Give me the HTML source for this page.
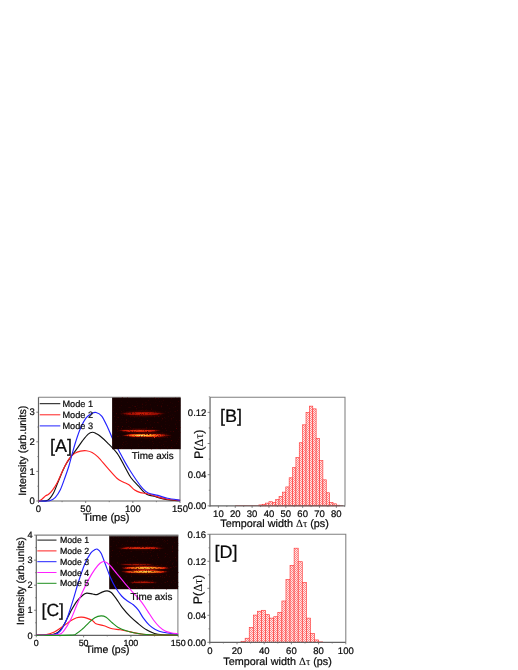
<!DOCTYPE html>
<html>
<head>
<meta charset="utf-8">
<title>Figure</title>
<style>
html,body{margin:0;padding:0;background:#ffffff;}
body{width:518px;height:670px;overflow:hidden;font-family:"Liberation Sans",sans-serif;}
svg{display:block;opacity:0.999;}
svg text{text-rendering:geometricPrecision;font-family:"Liberation Sans",sans-serif;fill:#0a0a0a;stroke:#0a0a0a;stroke-width:0.22px;}
</style>
</head>
<body>
<svg width="518" height="670" viewBox="0 0 518 670">
<defs>
<pattern id="hatch" x="0" y="0" width="2" height="2" patternUnits="userSpaceOnUse">
<rect width="2" height="2" fill="#ffe8e8"/>
<rect x="0" y="0" width="1" height="1" fill="#ff8888"/>
<rect x="1" y="1" width="1" height="1" fill="#ff8888"/>
</pattern>
<radialGradient id="gGlow">
<stop offset="0" stop-color="#a80c00" stop-opacity="0.9"/>
<stop offset="0.7" stop-color="#8a0800" stop-opacity="0.55"/>
<stop offset="1" stop-color="#4a0000" stop-opacity="0"/>
</radialGradient>
<radialGradient id="gHotL" fx="0.36" fy="0.5">
<stop offset="0" stop-color="#fff07a" stop-opacity="1"/>
<stop offset="0.3" stop-color="#ffa020" stop-opacity="1"/>
<stop offset="0.7" stop-color="#e82408" stop-opacity="0.95"/>
<stop offset="1" stop-color="#5a0000" stop-opacity="0"/>
</radialGradient>
<radialGradient id="gDim">
<stop offset="0" stop-color="#e02408" stop-opacity="1"/>
<stop offset="0.65" stop-color="#b81004" stop-opacity="0.85"/>
<stop offset="1" stop-color="#500000" stop-opacity="0"/>
</radialGradient>
<radialGradient id="gRed">
<stop offset="0" stop-color="#ff4a14" stop-opacity="1"/>
<stop offset="0.7" stop-color="#e01a08" stop-opacity="0.9"/>
<stop offset="1" stop-color="#5a0000" stop-opacity="0"/>
</radialGradient>
<radialGradient id="gHot">
<stop offset="0" stop-color="#fff07a" stop-opacity="1"/>
<stop offset="0.35" stop-color="#ffa020" stop-opacity="1"/>
<stop offset="0.75" stop-color="#e82408" stop-opacity="0.95"/>
<stop offset="1" stop-color="#5a0000" stop-opacity="0"/>
</radialGradient>
<filter id="noise" x="0" y="0" width="1" height="1" color-interpolation-filters="sRGB">
<feTurbulence type="fractalNoise" baseFrequency="0.8" numOctaves="2" seed="3" result="n"/>
<feColorMatrix in="n" type="matrix" values="0 0 0 0 0.34  0 0 0 0 0  0 0 0 0 0  3.5 0 0 0 -2.25" result="rn"/>
<feComposite in="rn" in2="SourceGraphic" operator="over"/>
</filter>
<filter id="grain" x="-0.1" y="-1" width="1.2" height="3" color-interpolation-filters="sRGB">
<feTurbulence type="fractalNoise" baseFrequency="0.7" numOctaves="2" seed="11" result="t"/>
<feDisplacementMap in="SourceGraphic" in2="t" scale="1.7" xChannelSelector="R" yChannelSelector="G" result="d"/>
<feColorMatrix in="t" type="matrix" values="0 0 0 0 1  0 0 0 0 1  0 0 0 0 1  0 0 2.6 0 -0.25" result="m"/>
<feComposite in="d" in2="m" operator="in"/>
</filter>
</defs>
<rect width="518" height="670" fill="#ffffff"/>
<!-- Panel A -->
<path d="M38.50,397.30 H180.00 V501.00" fill="none" stroke="#808080" stroke-width="1.05"/><path d="M38.50,397.30 V501.00 H180.00" fill="none" stroke="#646464" stroke-width="1.2"/>
<line x1="36.30" x2="38.50" y1="501.00" y2="501.00" stroke="#646464" stroke-width="0.8"/>
<text x="34.90" y="504.20" font-size="9.50" text-anchor="end" >0</text>
<line x1="36.30" x2="38.50" y1="471.40" y2="471.40" stroke="#646464" stroke-width="0.8"/>
<text x="34.90" y="474.60" font-size="9.50" text-anchor="end" >1</text>
<line x1="36.30" x2="38.50" y1="441.80" y2="441.80" stroke="#646464" stroke-width="0.8"/>
<text x="34.90" y="445.00" font-size="9.50" text-anchor="end" >2</text>
<line x1="36.30" x2="38.50" y1="412.20" y2="412.20" stroke="#646464" stroke-width="0.8"/>
<text x="34.90" y="415.40" font-size="9.50" text-anchor="end" >3</text>
<line x1="37.30" x2="38.50" y1="486.20" y2="486.20" stroke="#646464" stroke-width="0.7"/>
<line x1="37.30" x2="38.50" y1="456.60" y2="456.60" stroke="#646464" stroke-width="0.7"/>
<line x1="37.30" x2="38.50" y1="427.00" y2="427.00" stroke="#646464" stroke-width="0.7"/>
<line x1="38.50" x2="38.50" y1="501.00" y2="503.00" stroke="#646464" stroke-width="0.8"/>
<text x="38.50" y="512.00" font-size="9.50" text-anchor="middle" >0</text>
<line x1="85.66" x2="85.66" y1="501.00" y2="503.00" stroke="#646464" stroke-width="0.8"/>
<text x="85.66" y="512.00" font-size="9.50" text-anchor="middle" >50</text>
<line x1="132.83" x2="132.83" y1="501.00" y2="503.00" stroke="#646464" stroke-width="0.8"/>
<text x="132.83" y="512.00" font-size="9.50" text-anchor="middle" >100</text>
<line x1="180.00" x2="180.00" y1="501.00" y2="503.00" stroke="#646464" stroke-width="0.8"/>
<text x="180.00" y="512.00" font-size="9.50" text-anchor="middle" >150</text>
<line x1="62.08" x2="62.08" y1="501.00" y2="502.20" stroke="#646464" stroke-width="0.7"/>
<line x1="109.25" x2="109.25" y1="501.00" y2="502.20" stroke="#646464" stroke-width="0.7"/>
<line x1="156.41" x2="156.41" y1="501.00" y2="502.20" stroke="#646464" stroke-width="0.7"/>
<path d="M38.80,501.00C40.28,500.87 45.25,501.53 47.70,500.20C50.15,498.87 51.57,496.55 53.50,493.00C55.43,489.45 57.38,483.40 59.30,478.90C61.22,474.40 63.08,469.67 65.00,466.00C66.92,462.33 68.87,459.70 70.80,456.90C72.73,454.10 74.67,451.87 76.60,449.20C78.53,446.53 80.47,443.42 82.40,440.90C84.33,438.38 86.50,435.53 88.20,434.10C89.90,432.67 91.32,432.40 92.60,432.30C93.88,432.20 94.67,432.88 95.90,433.50C97.13,434.12 98.07,434.45 100.00,436.00C101.93,437.55 104.63,439.90 107.50,442.80C110.37,445.70 114.30,449.37 117.20,453.40C120.10,457.43 122.63,462.98 124.90,467.00C127.17,471.02 128.52,474.30 130.80,477.50C133.08,480.70 136.02,483.45 138.60,486.20C141.18,488.95 143.73,492.32 146.30,494.00C148.87,495.68 150.47,495.33 154.00,496.30C157.53,497.27 163.15,499.05 167.50,499.80C171.85,500.55 178.00,500.63 180.10,500.80" fill="none" stroke="#111" stroke-width="1.15" stroke-linejoin="round"/>
<path d="M38.80,501.00C39.32,500.70 40.75,500.07 41.90,499.20C43.05,498.33 44.58,496.62 45.70,495.80C46.82,494.98 47.47,495.25 48.60,494.30C49.73,493.35 51.05,492.08 52.50,490.10C53.95,488.12 55.53,485.78 57.30,482.40C59.07,479.02 61.17,473.67 63.10,469.80C65.03,465.93 66.97,461.93 68.90,459.20C70.83,456.47 72.77,454.75 74.70,453.40C76.63,452.05 78.57,451.55 80.50,451.10C82.43,450.65 84.37,450.48 86.30,450.70C88.23,450.92 90.17,451.37 92.10,452.40C94.03,453.43 95.33,454.32 97.90,456.90C100.47,459.48 104.28,464.30 107.50,467.90C110.72,471.50 114.60,476.15 117.20,478.50C119.80,480.85 121.15,480.95 123.10,482.00C125.05,483.05 126.97,483.45 128.90,484.80C130.83,486.15 132.77,488.80 134.70,490.10C136.63,491.40 138.25,491.95 140.50,492.60C142.75,493.25 145.30,493.28 148.20,494.00C151.10,494.72 154.68,496.03 157.90,496.90C161.12,497.77 163.80,498.62 167.50,499.20C171.20,499.78 178.00,500.20 180.10,500.40" fill="none" stroke="#ff2020" stroke-width="1.15" stroke-linejoin="round"/>
<path d="M38.80,501.00C40.60,500.97 46.83,501.42 49.60,500.80C52.37,500.18 53.63,499.08 55.40,497.30C57.17,495.52 58.60,493.40 60.20,490.10C61.80,486.80 63.55,481.52 65.00,477.50C66.45,473.48 67.77,469.70 68.90,466.00C70.03,462.30 70.67,459.33 71.80,455.30C72.93,451.27 74.25,446.30 75.70,441.80C77.15,437.30 78.73,432.32 80.50,428.30C82.27,424.28 84.37,420.20 86.30,417.70C88.23,415.20 90.47,414.17 92.10,413.30C93.73,412.43 94.50,412.03 96.10,412.50C97.70,412.97 99.77,413.60 101.70,416.10C103.63,418.60 105.90,423.77 107.70,427.50C109.50,431.23 110.57,434.50 112.50,438.50C114.43,442.50 117.22,447.57 119.30,451.50C121.38,455.43 123.08,458.72 125.00,462.10C126.92,465.48 128.87,468.73 130.80,471.80C132.73,474.87 134.67,477.77 136.60,480.50C138.53,483.23 140.47,486.12 142.40,488.20C144.33,490.28 145.62,491.80 148.20,493.00C150.78,494.20 154.68,494.52 157.90,495.40C161.12,496.28 163.80,497.50 167.50,498.30C171.20,499.10 178.00,499.88 180.10,500.20" fill="none" stroke="#2222ff" stroke-width="1.15" stroke-linejoin="round"/>
<line x1="39.7" x2="60.3" y1="403.70" y2="403.70" stroke="#111" stroke-width="1.0"/>
<text x="62.40" y="406.90" font-size="9.20" text-anchor="start" >Mode 1</text>
<line x1="39.7" x2="60.3" y1="414.80" y2="414.80" stroke="#ff2020" stroke-width="1.0"/>
<text x="62.40" y="418.00" font-size="9.20" text-anchor="start" >Mode 2</text>
<line x1="39.7" x2="60.3" y1="425.90" y2="425.90" stroke="#2222ff" stroke-width="1.0"/>
<text x="62.40" y="429.10" font-size="9.20" text-anchor="start" >Mode 3</text>
<text x="50.00" y="452.00" font-size="18.00" text-anchor="start" >[A]</text>
<text transform="translate(26.10,450.70) rotate(-90)" font-size="10.60" text-anchor="middle">Intensity (arb.units)</text>
<text x="106.30" y="520.90" font-size="11.10" text-anchor="middle" >Time (ps)</text>
<g filter="url(#noise)">
<rect x="112.1" y="397.6" width="68.6" height="51.6" fill="#160101"/>
</g>
<ellipse cx="142.60" cy="413.70" rx="25.50" ry="4.56" fill="url(#gGlow)" opacity="0.36" filter="url(#grain)"/><ellipse cx="142.60" cy="413.70" rx="23.50" ry="2.20" fill="url(#gDim)" opacity="0.90" filter="url(#grain)"/>
<ellipse cx="139.10" cy="430.80" rx="24.50" ry="3.30" fill="url(#gGlow)" opacity="0.38" filter="url(#grain)"/><ellipse cx="139.10" cy="430.80" rx="22.50" ry="1.50" fill="url(#gRed)" opacity="0.95" filter="url(#grain)"/>
<ellipse cx="147.10" cy="435.40" rx="27.50" ry="4.38" fill="url(#gGlow)" opacity="0.40" filter="url(#grain)"/><ellipse cx="147.10" cy="435.40" rx="25.50" ry="2.10" fill="url(#gHotL)" opacity="1.00" filter="url(#grain)"/>
<text x="152.80" y="458.70" font-size="9.90" text-anchor="middle" >Time axis</text>
<!-- Panel C -->
<path d="M36.30,535.10 H177.90 V635.30" fill="none" stroke="#808080" stroke-width="1.05"/><path d="M36.30,535.10 V635.30 H177.90" fill="none" stroke="#646464" stroke-width="1.2"/>
<line x1="34.10" x2="36.30" y1="635.30" y2="635.30" stroke="#646464" stroke-width="0.8"/>
<text x="32.70" y="638.50" font-size="9.20" text-anchor="end" >0</text>
<line x1="34.10" x2="36.30" y1="610.25" y2="610.25" stroke="#646464" stroke-width="0.8"/>
<text x="32.70" y="613.45" font-size="9.20" text-anchor="end" >1</text>
<line x1="34.10" x2="36.30" y1="585.20" y2="585.20" stroke="#646464" stroke-width="0.8"/>
<text x="32.70" y="588.40" font-size="9.20" text-anchor="end" >2</text>
<line x1="34.10" x2="36.30" y1="560.15" y2="560.15" stroke="#646464" stroke-width="0.8"/>
<text x="32.70" y="563.35" font-size="9.20" text-anchor="end" >3</text>
<line x1="34.10" x2="36.30" y1="535.10" y2="535.10" stroke="#646464" stroke-width="0.8"/>
<text x="32.70" y="538.30" font-size="9.20" text-anchor="end" >4</text>
<line x1="35.10" x2="36.30" y1="622.77" y2="622.77" stroke="#646464" stroke-width="0.7"/>
<line x1="35.10" x2="36.30" y1="597.72" y2="597.72" stroke="#646464" stroke-width="0.7"/>
<line x1="35.10" x2="36.30" y1="572.67" y2="572.67" stroke="#646464" stroke-width="0.7"/>
<line x1="35.10" x2="36.30" y1="547.62" y2="547.62" stroke="#646464" stroke-width="0.7"/>
<line x1="36.30" x2="36.30" y1="635.30" y2="637.30" stroke="#646464" stroke-width="0.8"/>
<text x="36.30" y="645.90" font-size="8.90" text-anchor="middle" >0</text>
<line x1="83.60" x2="83.60" y1="635.30" y2="637.30" stroke="#646464" stroke-width="0.8"/>
<text x="83.60" y="645.90" font-size="8.90" text-anchor="middle" >50</text>
<line x1="130.90" x2="130.90" y1="635.30" y2="637.30" stroke="#646464" stroke-width="0.8"/>
<text x="130.90" y="645.90" font-size="8.90" text-anchor="middle" >100</text>
<line x1="178.20" x2="178.20" y1="635.30" y2="637.30" stroke="#646464" stroke-width="0.8"/>
<text x="178.20" y="645.90" font-size="8.90" text-anchor="middle" >150</text>
<line x1="59.95" x2="59.95" y1="635.30" y2="636.50" stroke="#646464" stroke-width="0.7"/>
<line x1="107.25" x2="107.25" y1="635.30" y2="636.50" stroke="#646464" stroke-width="0.7"/>
<line x1="154.55" x2="154.55" y1="635.30" y2="636.50" stroke="#646464" stroke-width="0.7"/>
<g filter="url(#noise)">
<rect x="109.2" y="535.6" width="68.9" height="53.6" fill="#160101"/>
</g>
<rect x="109.2" y="535.2" width="69.0" height="1.2" fill="#777"/>
<ellipse cx="140.60" cy="548.10" rx="27.00" ry="2.94" fill="url(#gGlow)" opacity="0.34" filter="url(#grain)"/><ellipse cx="140.60" cy="548.10" rx="25.00" ry="1.30" fill="url(#gRed)" opacity="0.85" filter="url(#grain)"/>
<ellipse cx="136.60" cy="564.60" rx="20.00" ry="2.76" fill="url(#gGlow)" opacity="0.28" filter="url(#grain)"/><ellipse cx="136.60" cy="564.60" rx="18.00" ry="1.20" fill="url(#gDim)" opacity="0.70" filter="url(#grain)"/>
<ellipse cx="145.40" cy="568.00" rx="28.00" ry="4.02" fill="url(#gGlow)" opacity="0.40" filter="url(#grain)"/><ellipse cx="145.40" cy="568.00" rx="26.00" ry="1.90" fill="url(#gHot)" opacity="1.00" filter="url(#grain)"/>
<ellipse cx="145.20" cy="571.80" rx="26.50" ry="4.02" fill="url(#gGlow)" opacity="0.38" filter="url(#grain)"/><ellipse cx="145.20" cy="571.80" rx="24.50" ry="1.90" fill="url(#gHot)" opacity="0.95" filter="url(#grain)"/>
<ellipse cx="143.20" cy="582.30" rx="17.00" ry="2.76" fill="url(#gGlow)" opacity="0.32" filter="url(#grain)"/><ellipse cx="143.20" cy="582.30" rx="15.00" ry="1.20" fill="url(#gDim)" opacity="0.80" filter="url(#grain)"/>
<path d="M36.30,635.30C38.98,635.17 48.70,635.07 52.40,634.50C56.10,633.93 56.48,633.68 58.50,631.90C60.52,630.12 62.48,627.17 64.50,623.80C66.52,620.43 68.58,615.40 70.60,611.70C72.62,608.00 74.58,604.35 76.60,601.60C78.62,598.85 81.02,596.62 82.70,595.20C84.38,593.78 85.03,593.30 86.70,593.10C88.37,592.90 90.98,593.75 92.70,594.00C94.42,594.25 95.43,594.92 97.00,594.60C98.57,594.28 100.42,592.72 102.10,592.10C103.78,591.48 105.58,590.83 107.10,590.90C108.62,590.97 109.68,591.22 111.20,592.50C112.72,593.78 114.35,596.07 116.20,598.60C118.05,601.13 119.95,604.68 122.30,607.70C124.65,610.72 127.62,614.02 130.30,616.70C132.98,619.38 135.70,621.62 138.40,623.80C141.10,625.98 143.82,628.18 146.50,629.80C149.18,631.42 151.82,632.68 154.50,633.50C157.18,634.32 158.67,634.43 162.60,634.70C166.53,634.97 175.52,635.03 178.10,635.10" fill="none" stroke="#111" stroke-width="1.15" stroke-linejoin="round"/>
<path d="M36.30,635.30C37.98,635.17 43.38,635.07 46.40,634.50C49.42,633.93 51.72,633.18 54.40,631.90C57.08,630.62 59.80,628.65 62.50,626.80C65.20,624.95 68.25,622.32 70.60,620.80C72.95,619.28 74.75,618.32 76.60,617.70C78.45,617.08 80.02,617.03 81.70,617.10C83.38,617.17 84.87,617.48 86.70,618.10C88.53,618.72 91.15,619.85 92.70,620.80C94.25,621.75 94.10,622.97 96.00,623.80C97.90,624.63 101.40,624.97 104.10,625.80C106.80,626.63 109.52,628.13 112.20,628.80C114.88,629.47 117.18,629.28 120.20,629.80C123.22,630.32 126.93,631.22 130.30,631.90C133.67,632.58 137.03,633.43 140.40,633.90C143.77,634.37 144.22,634.50 150.50,634.70C156.78,634.90 173.50,635.03 178.10,635.10" fill="none" stroke="#ff2020" stroke-width="1.15" stroke-linejoin="round"/>
<path d="M36.30,635.30C39.32,635.17 50.37,635.25 54.40,634.50C58.43,633.75 58.48,633.25 60.50,630.80C62.52,628.35 64.48,624.67 66.50,619.80C68.52,614.93 70.58,607.98 72.60,601.60C74.62,595.22 76.58,587.72 78.60,581.50C80.62,575.28 82.68,569.02 84.70,564.30C86.72,559.58 88.98,555.65 90.70,553.20C92.42,550.75 93.87,550.27 95.00,549.60C96.13,548.93 96.48,548.60 97.50,549.20C98.52,549.80 99.78,550.68 101.10,553.20C102.42,555.72 103.92,560.43 105.40,564.30C106.88,568.17 108.32,572.53 110.00,576.40C111.68,580.27 113.57,584.23 115.50,587.50C117.43,590.77 119.60,593.75 121.60,596.00C123.60,598.25 125.55,599.53 127.50,601.00C129.45,602.47 131.48,603.27 133.30,604.80C135.12,606.33 136.72,607.97 138.40,610.20C140.08,612.43 141.58,615.70 143.40,618.20C145.22,620.70 147.32,623.33 149.30,625.20C151.28,627.07 153.02,628.23 155.30,629.40C157.58,630.57 159.20,631.38 163.00,632.20C166.80,633.02 175.58,633.95 178.10,634.30" fill="none" stroke="#2222ff" stroke-width="1.15" stroke-linejoin="round"/>
<path d="M36.30,635.30C40.00,635.17 53.80,635.42 58.50,634.50C63.20,633.58 62.48,632.25 64.50,629.80C66.52,627.35 68.58,623.83 70.60,619.80C72.62,615.77 74.58,610.32 76.60,605.60C78.62,600.88 80.68,595.87 82.70,591.50C84.72,587.13 86.68,583.08 88.70,579.40C90.72,575.72 92.92,572.08 94.80,569.40C96.68,566.72 98.45,564.62 100.00,563.30C101.55,561.98 102.50,561.22 104.10,561.50C105.70,561.78 107.45,562.95 109.60,565.00C111.75,567.05 114.38,570.67 117.00,573.80C119.62,576.93 122.58,580.63 125.30,583.80C128.02,586.97 130.62,589.80 133.30,592.80C135.98,595.80 139.03,598.78 141.40,601.80C143.77,604.82 145.48,607.87 147.50,610.90C149.52,613.93 151.52,617.35 153.50,620.00C155.48,622.65 157.45,624.98 159.40,626.80C161.35,628.62 163.28,629.92 165.20,630.90C167.12,631.88 168.75,632.20 170.90,632.70C173.05,633.20 176.90,633.70 178.10,633.90" fill="none" stroke="#ff20ff" stroke-width="1.15" stroke-linejoin="round"/>
<path d="M36.30,635.30C42.02,635.27 63.88,635.40 70.60,635.10C77.32,634.80 74.58,634.55 76.60,633.50C78.62,632.45 80.68,630.58 82.70,628.80C84.72,627.02 86.68,624.65 88.70,622.80C90.72,620.95 92.73,618.85 94.80,617.70C96.87,616.55 99.22,615.97 101.10,615.90C102.98,615.83 104.25,616.15 106.10,617.30C107.95,618.45 110.18,621.12 112.20,622.80C114.22,624.48 115.85,626.07 118.20,627.40C120.55,628.73 123.27,629.82 126.30,630.80C129.33,631.78 132.37,632.65 136.40,633.30C140.43,633.95 143.55,634.40 150.50,634.70C157.45,635.00 173.50,635.03 178.10,635.10" fill="none" stroke="#1f8f1f" stroke-width="1.15" stroke-linejoin="round"/>
<line x1="37.3" x2="56.5" y1="540.10" y2="540.10" stroke="#111" stroke-width="1.0"/>
<text x="59.90" y="543.20" font-size="8.80" text-anchor="start" >Mode 1</text>
<line x1="37.3" x2="56.5" y1="550.90" y2="550.90" stroke="#ff2020" stroke-width="1.0"/>
<text x="59.90" y="554.00" font-size="8.80" text-anchor="start" >Mode 2</text>
<line x1="37.3" x2="56.5" y1="561.70" y2="561.70" stroke="#2222ff" stroke-width="1.0"/>
<text x="59.90" y="564.80" font-size="8.80" text-anchor="start" >Mode 3</text>
<line x1="37.3" x2="56.5" y1="572.50" y2="572.50" stroke="#ff20ff" stroke-width="1.0"/>
<text x="59.90" y="575.60" font-size="8.80" text-anchor="start" >Mode 4</text>
<line x1="37.3" x2="56.5" y1="583.30" y2="583.30" stroke="#1f8f1f" stroke-width="1.0"/>
<text x="59.90" y="586.40" font-size="8.80" text-anchor="start" >Mode 5</text>
<text x="41.50" y="616.40" font-size="17.60" text-anchor="start" >[C]</text>
<text transform="translate(24.30,581.00) rotate(-90)" font-size="10.35" text-anchor="middle">Intensity (arb.units)</text>
<text x="107.50" y="653.00" font-size="10.50" text-anchor="middle" >Time (ps)</text>
<text x="151.50" y="599.60" font-size="9.90" text-anchor="middle" >Time axis</text>
<!-- Panel B -->
<rect x="258.84" y="504.92" width="3.37" height="0.93" fill="url(#hatch)" stroke="#ff3838" stroke-width="0.65"/>
<rect x="262.21" y="504.29" width="3.37" height="1.56" fill="url(#hatch)" stroke="#ff3838" stroke-width="0.65"/>
<rect x="265.58" y="503.12" width="3.37" height="2.73" fill="url(#hatch)" stroke="#ff3838" stroke-width="0.65"/>
<rect x="268.95" y="501.72" width="3.37" height="4.13" fill="url(#hatch)" stroke="#ff3838" stroke-width="0.65"/>
<rect x="272.32" y="502.58" width="3.37" height="3.27" fill="url(#hatch)" stroke="#ff3838" stroke-width="0.65"/>
<rect x="275.69" y="499.62" width="3.37" height="6.23" fill="url(#hatch)" stroke="#ff3838" stroke-width="0.65"/>
<rect x="279.06" y="496.50" width="3.37" height="9.35" fill="url(#hatch)" stroke="#ff3838" stroke-width="0.65"/>
<rect x="282.43" y="492.14" width="3.37" height="13.71" fill="url(#hatch)" stroke="#ff3838" stroke-width="0.65"/>
<rect x="285.80" y="486.92" width="3.37" height="18.93" fill="url(#hatch)" stroke="#ff3838" stroke-width="0.65"/>
<rect x="289.17" y="477.81" width="3.37" height="28.04" fill="url(#hatch)" stroke="#ff3838" stroke-width="0.65"/>
<rect x="292.54" y="467.68" width="3.37" height="38.17" fill="url(#hatch)" stroke="#ff3838" stroke-width="0.65"/>
<rect x="295.91" y="457.55" width="3.37" height="48.30" fill="url(#hatch)" stroke="#ff3838" stroke-width="0.65"/>
<rect x="299.28" y="442.75" width="3.37" height="63.10" fill="url(#hatch)" stroke="#ff3838" stroke-width="0.65"/>
<rect x="302.65" y="424.83" width="3.37" height="81.02" fill="url(#hatch)" stroke="#ff3838" stroke-width="0.65"/>
<rect x="306.02" y="412.37" width="3.37" height="93.48" fill="url(#hatch)" stroke="#ff3838" stroke-width="0.65"/>
<rect x="309.39" y="406.14" width="3.37" height="99.71" fill="url(#hatch)" stroke="#ff3838" stroke-width="0.65"/>
<rect x="312.76" y="408.86" width="3.37" height="96.99" fill="url(#hatch)" stroke="#ff3838" stroke-width="0.65"/>
<rect x="316.13" y="438.47" width="3.37" height="67.38" fill="url(#hatch)" stroke="#ff3838" stroke-width="0.65"/>
<rect x="319.50" y="460.67" width="3.37" height="45.18" fill="url(#hatch)" stroke="#ff3838" stroke-width="0.65"/>
<rect x="322.87" y="479.83" width="3.37" height="26.02" fill="url(#hatch)" stroke="#ff3838" stroke-width="0.65"/>
<rect x="326.24" y="492.76" width="3.37" height="13.09" fill="url(#hatch)" stroke="#ff3838" stroke-width="0.65"/>
<rect x="329.61" y="502.58" width="3.37" height="3.27" fill="url(#hatch)" stroke="#ff3838" stroke-width="0.65"/>
<rect x="332.98" y="503.82" width="3.37" height="2.03" fill="url(#hatch)" stroke="#ff3838" stroke-width="0.65"/>
<rect x="336.35" y="505.23" width="3.37" height="0.62" fill="url(#hatch)" stroke="#ff3838" stroke-width="0.65"/>
<line x1="235.25" x2="343.09" y1="505.55" y2="505.55" stroke="#e03030" stroke-width="0.7"/>
<path d="M210.05,397.25 H345.00 V505.85" fill="none" stroke="#808080" stroke-width="1.05"/><path d="M210.05,397.25 V505.85 H345.00" fill="none" stroke="#646464" stroke-width="1.2"/>
<line x1="207.65" x2="210.05" y1="505.85" y2="505.85" stroke="#646464" stroke-width="0.8"/>
<text x="206.35" y="509.05" font-size="9.50" text-anchor="end" >0.00</text>
<line x1="207.65" x2="210.05" y1="474.69" y2="474.69" stroke="#646464" stroke-width="0.8"/>
<text x="206.35" y="477.89" font-size="9.50" text-anchor="end" >0.04</text>
<line x1="207.65" x2="210.05" y1="443.53" y2="443.53" stroke="#646464" stroke-width="0.8"/>
<line x1="207.65" x2="210.05" y1="412.37" y2="412.37" stroke="#646464" stroke-width="0.8"/>
<text x="206.35" y="415.57" font-size="9.50" text-anchor="end" >0.12</text>
<line x1="208.75" x2="210.05" y1="490.27" y2="490.27" stroke="#646464" stroke-width="0.7"/>
<line x1="208.75" x2="210.05" y1="459.11" y2="459.11" stroke="#646464" stroke-width="0.7"/>
<line x1="208.75" x2="210.05" y1="427.95" y2="427.95" stroke="#646464" stroke-width="0.7"/>
<line x1="208.75" x2="210.05" y1="396.79" y2="396.79" stroke="#646464" stroke-width="0.7"/>
<line x1="218.40" x2="218.40" y1="505.85" y2="507.85" stroke="#646464" stroke-width="0.8"/>
<text x="218.40" y="517.45" font-size="9.50" text-anchor="middle" >10</text>
<line x1="235.25" x2="235.25" y1="505.85" y2="507.85" stroke="#646464" stroke-width="0.8"/>
<text x="235.25" y="517.45" font-size="9.50" text-anchor="middle" >20</text>
<line x1="252.10" x2="252.10" y1="505.85" y2="507.85" stroke="#646464" stroke-width="0.8"/>
<text x="252.10" y="517.45" font-size="9.50" text-anchor="middle" >30</text>
<line x1="268.95" x2="268.95" y1="505.85" y2="507.85" stroke="#646464" stroke-width="0.8"/>
<text x="268.95" y="517.45" font-size="9.50" text-anchor="middle" >40</text>
<line x1="285.80" x2="285.80" y1="505.85" y2="507.85" stroke="#646464" stroke-width="0.8"/>
<text x="285.80" y="517.45" font-size="9.50" text-anchor="middle" >50</text>
<line x1="302.65" x2="302.65" y1="505.85" y2="507.85" stroke="#646464" stroke-width="0.8"/>
<text x="302.65" y="517.45" font-size="9.50" text-anchor="middle" >60</text>
<line x1="319.50" x2="319.50" y1="505.85" y2="507.85" stroke="#646464" stroke-width="0.8"/>
<text x="319.50" y="517.45" font-size="9.50" text-anchor="middle" >70</text>
<line x1="336.35" x2="336.35" y1="505.85" y2="507.85" stroke="#646464" stroke-width="0.8"/>
<text x="336.35" y="517.45" font-size="9.50" text-anchor="middle" >80</text>
<line x1="209.97" x2="209.97" y1="505.85" y2="507.05" stroke="#646464" stroke-width="0.7"/>
<line x1="226.83" x2="226.83" y1="505.85" y2="507.05" stroke="#646464" stroke-width="0.7"/>
<line x1="243.68" x2="243.68" y1="505.85" y2="507.05" stroke="#646464" stroke-width="0.7"/>
<line x1="260.52" x2="260.52" y1="505.85" y2="507.05" stroke="#646464" stroke-width="0.7"/>
<line x1="277.38" x2="277.38" y1="505.85" y2="507.05" stroke="#646464" stroke-width="0.7"/>
<line x1="294.23" x2="294.23" y1="505.85" y2="507.05" stroke="#646464" stroke-width="0.7"/>
<line x1="311.07" x2="311.07" y1="505.85" y2="507.05" stroke="#646464" stroke-width="0.7"/>
<line x1="327.93" x2="327.93" y1="505.85" y2="507.05" stroke="#646464" stroke-width="0.7"/>
<line x1="344.77" x2="344.77" y1="505.85" y2="507.05" stroke="#646464" stroke-width="0.7"/>
<text x="220.00" y="421.50" font-size="18.00" text-anchor="start" >[B]</text>
<text transform="translate(202.60,444.30) rotate(-90)" font-size="12.40" text-anchor="middle">P(<tspan font-family="Liberation Serif" stroke-width="0.05">&#916;&#964;</tspan>)</text>
<text x="274.60" y="527.20" font-size="10.80" text-anchor="middle" >Temporal width <tspan font-family="Liberation Serif" stroke-width="0.05">&#916;&#964;</tspan> (ps)</text>
<!-- Panel D -->
<rect x="241.08" y="641.29" width="4.08" height="1.01" fill="url(#hatch)" stroke="#ff3838" stroke-width="0.65"/>
<rect x="245.16" y="638.25" width="4.08" height="4.05" fill="url(#hatch)" stroke="#ff3838" stroke-width="0.65"/>
<rect x="249.24" y="627.45" width="4.08" height="14.85" fill="url(#hatch)" stroke="#ff3838" stroke-width="0.65"/>
<rect x="253.32" y="615.10" width="4.08" height="27.20" fill="url(#hatch)" stroke="#ff3838" stroke-width="0.65"/>
<rect x="257.40" y="611.25" width="4.08" height="31.05" fill="url(#hatch)" stroke="#ff3838" stroke-width="0.65"/>
<rect x="261.48" y="610.30" width="4.08" height="31.99" fill="url(#hatch)" stroke="#ff3838" stroke-width="0.65"/>
<rect x="265.56" y="614.69" width="4.08" height="27.61" fill="url(#hatch)" stroke="#ff3838" stroke-width="0.65"/>
<rect x="269.64" y="618.13" width="4.08" height="24.16" fill="url(#hatch)" stroke="#ff3838" stroke-width="0.65"/>
<rect x="273.72" y="616.72" width="4.08" height="25.58" fill="url(#hatch)" stroke="#ff3838" stroke-width="0.65"/>
<rect x="277.80" y="612.33" width="4.08" height="29.97" fill="url(#hatch)" stroke="#ff3838" stroke-width="0.65"/>
<rect x="281.88" y="600.99" width="4.08" height="41.31" fill="url(#hatch)" stroke="#ff3838" stroke-width="0.65"/>
<rect x="285.96" y="579.46" width="4.08" height="62.84" fill="url(#hatch)" stroke="#ff3838" stroke-width="0.65"/>
<rect x="290.04" y="565.35" width="4.08" height="76.95" fill="url(#hatch)" stroke="#ff3838" stroke-width="0.65"/>
<rect x="294.12" y="548.20" width="4.08" height="94.09" fill="url(#hatch)" stroke="#ff3838" stroke-width="0.65"/>
<rect x="298.20" y="561.70" width="4.08" height="80.59" fill="url(#hatch)" stroke="#ff3838" stroke-width="0.65"/>
<rect x="302.28" y="582.50" width="4.08" height="59.80" fill="url(#hatch)" stroke="#ff3838" stroke-width="0.65"/>
<rect x="306.36" y="618.13" width="4.08" height="24.16" fill="url(#hatch)" stroke="#ff3838" stroke-width="0.65"/>
<rect x="310.44" y="633.52" width="4.08" height="8.78" fill="url(#hatch)" stroke="#ff3838" stroke-width="0.65"/>
<rect x="314.52" y="639.94" width="4.08" height="2.36" fill="url(#hatch)" stroke="#ff3838" stroke-width="0.65"/>
<rect x="318.60" y="641.89" width="4.08" height="0.40" fill="url(#hatch)" stroke="#ff3838" stroke-width="0.65"/>
<path d="M209.80,534.20 H345.80 V642.30" fill="none" stroke="#808080" stroke-width="1.05"/><path d="M209.80,534.20 V642.30 H345.80" fill="none" stroke="#646464" stroke-width="1.2"/>
<line x1="207.40" x2="209.80" y1="642.30" y2="642.30" stroke="#646464" stroke-width="0.8"/>
<text x="206.10" y="645.50" font-size="9.50" text-anchor="end" >0.00</text>
<line x1="207.40" x2="209.80" y1="615.30" y2="615.30" stroke="#646464" stroke-width="0.8"/>
<text x="206.10" y="618.50" font-size="9.50" text-anchor="end" >0.04</text>
<line x1="207.40" x2="209.80" y1="588.30" y2="588.30" stroke="#646464" stroke-width="0.8"/>
<line x1="207.40" x2="209.80" y1="561.30" y2="561.30" stroke="#646464" stroke-width="0.8"/>
<text x="206.10" y="564.50" font-size="9.50" text-anchor="end" >0.12</text>
<line x1="207.40" x2="209.80" y1="534.30" y2="534.30" stroke="#646464" stroke-width="0.8"/>
<text x="206.10" y="537.50" font-size="9.50" text-anchor="end" >0.16</text>
<line x1="208.50" x2="209.80" y1="628.80" y2="628.80" stroke="#646464" stroke-width="0.7"/>
<line x1="208.50" x2="209.80" y1="601.80" y2="601.80" stroke="#646464" stroke-width="0.7"/>
<line x1="208.50" x2="209.80" y1="574.80" y2="574.80" stroke="#646464" stroke-width="0.7"/>
<line x1="208.50" x2="209.80" y1="547.80" y2="547.80" stroke="#646464" stroke-width="0.7"/>
<line x1="209.80" x2="209.80" y1="642.30" y2="644.30" stroke="#646464" stroke-width="0.8"/>
<text x="209.80" y="653.90" font-size="9.50" text-anchor="middle" >0</text>
<line x1="237.00" x2="237.00" y1="642.30" y2="644.30" stroke="#646464" stroke-width="0.8"/>
<text x="237.00" y="653.90" font-size="9.50" text-anchor="middle" >20</text>
<line x1="264.20" x2="264.20" y1="642.30" y2="644.30" stroke="#646464" stroke-width="0.8"/>
<text x="264.20" y="653.90" font-size="9.50" text-anchor="middle" >40</text>
<line x1="291.40" x2="291.40" y1="642.30" y2="644.30" stroke="#646464" stroke-width="0.8"/>
<text x="291.40" y="653.90" font-size="9.50" text-anchor="middle" >60</text>
<line x1="318.60" x2="318.60" y1="642.30" y2="644.30" stroke="#646464" stroke-width="0.8"/>
<text x="318.60" y="653.90" font-size="9.50" text-anchor="middle" >80</text>
<line x1="345.80" x2="345.80" y1="642.30" y2="644.30" stroke="#646464" stroke-width="0.8"/>
<text x="345.80" y="653.90" font-size="9.50" text-anchor="middle" >100</text>
<line x1="223.40" x2="223.40" y1="642.30" y2="643.50" stroke="#646464" stroke-width="0.7"/>
<line x1="250.60" x2="250.60" y1="642.30" y2="643.50" stroke="#646464" stroke-width="0.7"/>
<line x1="277.80" x2="277.80" y1="642.30" y2="643.50" stroke="#646464" stroke-width="0.7"/>
<line x1="305.00" x2="305.00" y1="642.30" y2="643.50" stroke="#646464" stroke-width="0.7"/>
<line x1="332.20" x2="332.20" y1="642.30" y2="643.50" stroke="#646464" stroke-width="0.7"/>
<text x="214.50" y="557.70" font-size="18.00" text-anchor="start" >[D]</text>
<text transform="translate(201.50,589.50) rotate(-90)" font-size="12.40" text-anchor="middle">P(<tspan font-family="Liberation Serif" stroke-width="0.05">&#916;&#964;</tspan>)</text>
<text x="277.60" y="664.90" font-size="10.80" text-anchor="middle" >Temporal width <tspan font-family="Liberation Serif" stroke-width="0.05">&#916;&#964;</tspan> (ps)</text>
</svg>
</body>
</html>
